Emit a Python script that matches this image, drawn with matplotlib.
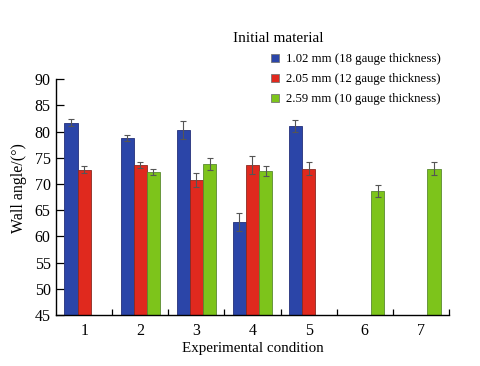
import matplotlib
matplotlib.use("Agg")
import matplotlib.pyplot as plt
import numpy as np
from matplotlib.lines import Line2D

plt.rcParams['font.family'] = ['Liberation Serif', 'DejaVu Serif']
plt.rcParams['mathtext.fontset'] = 'stix'

conditions = [1, 2, 3, 4, 5, 6, 7]
series_names = ["1.02 mm (18 gauge thickness)",
                "2.05 mm (12 gauge thickness)",
                "2.59 mm (10 gauge thickness)"]
blue_vals = [81.7, 78.7, 80.3, 62.8, 81.1, np.nan, np.nan]
blue_err = [0.6, 0.6, 1.7, 1.7, 1.1, 0, 0]
red_vals = [72.7, 73.6, 70.7, 73.6, 72.9, np.nan, np.nan]
red_err = [0.7, 0.6, 1.3, 1.7, 1.2, 0, 0]
green_vals = [np.nan, 72.3, 73.8, 72.5, np.nan, 68.7, 72.9]
green_err = [0, 0.5, 1.1, 1.0, 0, 1.1, 1.2]
colors = ["#2B45A8", "#E0291E", "#7DC41B"]
edges = ["#24307A", "#8A2A22", "#5A8A30"]

fig = plt.figure(figsize=(4.8, 3.66), dpi=100)
ax = fig.add_axes([0.117, 0.139, 0.818, 0.645])

x = np.array(conditions, dtype=float)
w = 0.235
offsets = [-w, 0, w]
for vals, errs, c, ec, off in zip([blue_vals, red_vals, green_vals],
                                   [blue_err, red_err, green_err],
                                   colors, edges, offsets):
    vals = np.array(vals, dtype=float)
    mask = ~np.isnan(vals)
    ax.bar(x[mask] + off, vals[mask], width=w, color=c, edgecolor=ec,
           linewidth=0.6, bottom=0, zorder=2)
    ax.errorbar(x[mask] + off, vals[mask], yerr=np.array(errs)[mask],
                fmt='none', ecolor='#555555', elinewidth=0.8, capsize=2,
                capthick=0.8, zorder=3)

ax.set_xlim(0.5, 7.5)
ax.set_ylim(45, 90)
ax.set_yticks(np.arange(45, 91, 5))
ax.set_xticks(conditions)
ax.set_xticks(np.arange(1.5, 7.6, 1), minor=True)
ax.tick_params(axis='x', which='major', length=0, labelsize=11.5, pad=6)
ax.tick_params(axis='x', which='minor', direction='in', length=4, width=0.9)
ax.tick_params(axis='y', direction='in', length=6, width=0.9, labelsize=11.5, pad=4)
for s in ['top', 'right']:
    ax.spines[s].set_visible(False)
for s in ['left', 'bottom']:
    ax.spines[s].set_linewidth(1.0)

ax.set_xlabel("Experimental condition", fontsize=10.8, labelpad=2)
ax.set_ylabel("Wall angle/(°)", fontsize=11.5, labelpad=4)
ax.yaxis.set_label_coords(-0.075, 0.54)

fig.text(0.485, 0.895, "Initial material", fontsize=11, va='center', ha='left')
handles = [Line2D([], [], marker='s', linestyle='none', markersize=5.5,
                  markerfacecolor=c, markeredgecolor='#777777', markeredgewidth=0.6)
           for c in colors]
fig.legend(handles, series_names, loc='upper left', bbox_to_anchor=(0.562, 0.854),
           frameon=False, fontsize=9.2, handlelength=0.8, handletextpad=0.5,
           labelspacing=0.62, borderaxespad=0, borderpad=0)

fig.savefig("out.png", dpi=100)
